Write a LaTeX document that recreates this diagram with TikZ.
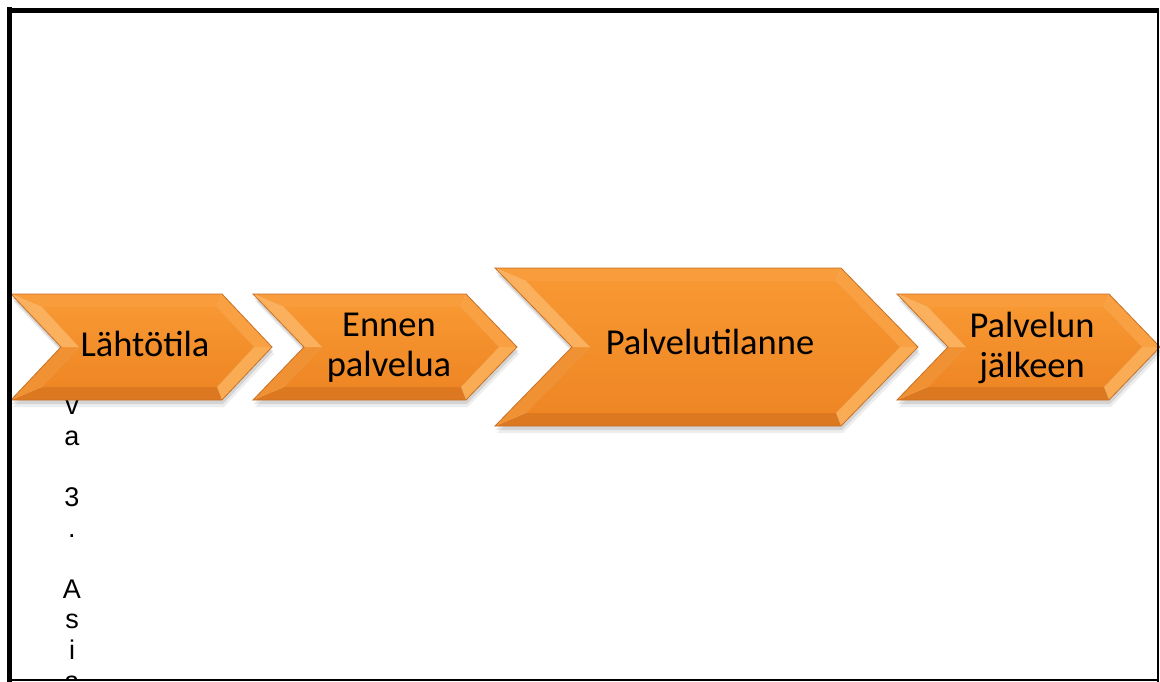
\documentclass[tikz,border=0pt]{standalone}
\usepackage{fontspec}
\setmainfont{Carlito}
\newfontfamily\arialf{Liberation Sans}
\definecolor{bevTop}{RGB}{249,156,60}
\definecolor{bevUR}{RGB}{248,160,66}
\definecolor{bevLR}{RGB}{250,172,84}
\definecolor{bevBot}{RGB}{220,120,32}
\definecolor{bevLL}{RGB}{240,146,52}
\definecolor{bevUL}{RGB}{250,176,92}
\definecolor{faceTop}{RGB}{248,152,50}
\definecolor{faceBot}{RGB}{238,134,36}
\definecolor{edgeC}{RGB}{200,112,36}
\tikzset{
  lbl/.style={font=\fontsize{36.5}{40}\selectfont, align=center, inner sep=0pt, text=black},
  vlet/.style={font=\arialf\fontsize{27}{30}\selectfont, anchor=base, inner sep=0pt, text=black},
}
\newcommand\chevshape[5]{%
  \pgfmathsetmacro\cL{#1}\pgfmathsetmacro\cR{#2}%
  \pgfmathsetmacro\cT{#3}\pgfmathsetmacro\cB{#4}%
  \pgfmathsetmacro\cD{#5}%
  \pgfmathsetmacro\cM{(\cT+\cB)/2}%
  \pgfmathsetmacro\bw{13}\pgfmathsetmacro\bh{18}%
  \coordinate (o1) at (\cL,\cT);
  \coordinate (o2) at (\cR-\cD,\cT);
  \coordinate (o3) at (\cR,\cM);
  \coordinate (o4) at (\cR-\cD,\cB);
  \coordinate (o5) at (\cL,\cB);
  \coordinate (o6) at (\cL+\cD,\cM);
  \coordinate (i1) at (\cL+\bw+\bh,\cT+\bw);
  \coordinate (i2) at (\cR-\cD-5,\cT+\bw);
  \coordinate (i3) at (\cR-\bh,\cM);
  \coordinate (i4) at (\cR-\cD-5,\cB-\bw);
  \coordinate (i5) at (\cL+\bw+\bh,\cB-\bw);
  \coordinate (i6) at (\cL+\cD+\bh,\cM);
  % shadow
  \fill[black,opacity=.07] ([shift={(2,7)}]o1) -- ([shift={(2,7)}]o2) -- ([shift={(2,7)}]o3) -- ([shift={(2,7)}]o4) -- ([shift={(2,7)}]o5) -- ([shift={(2,7)}]o6) -- cycle;
  \fill[black,opacity=.10] ([shift={(1,4)}]o1) -- ([shift={(1,4)}]o2) -- ([shift={(1,4)}]o3) -- ([shift={(1,4)}]o4) -- ([shift={(1,4)}]o5) -- ([shift={(1,4)}]o6) -- cycle;
  % bevels
  \fill[bevTop] (o1) -- (o2) -- (i2) -- (i1) -- cycle;
  \fill[bevUR] (o2) -- (o3) -- (i3) -- (i2) -- cycle;
  \fill[bevLR] (o3) -- (o4) -- (i4) -- (i3) -- cycle;
  \fill[bevBot] (o4) -- (o5) -- (i5) -- (i4) -- cycle;
  \fill[bevLL] (o5) -- (o6) -- (i6) -- (i5) -- cycle;
  \fill[bevUL] (o6) -- (o1) -- (i1) -- (i6) -- cycle;
  % face
  \shade[top color=faceTop, bottom color=faceBot] (i1) -- (i2) -- (i3) -- (i4) -- (i5) -- (i6) -- cycle;
  % outline
  \draw[edgeC, line width=0.8pt, line join=miter] (o1) -- (o2) -- (o3) -- (o4) -- (o5) -- (o6) -- cycle;
}
\begin{document}
\begin{tikzpicture}[x=1pt,y=-1pt]
\useasboundingbox (0,0) rectangle (1160,682);
\fill[white] (0,0) rectangle (1160,682);
% vertical text (partly hidden behind the first arrow)
\begin{scope}
\clip (11,12) rectangle (1157,679.5);
\foreach \ch/\yy [count=\k] in {v/414, a/445, 3/506, ./537, A/598, s/628, i/659, a/690}
  \node[vlet] (vt\k) at (72,\yy) {\ch};
\end{scope}
% arrows
\chevshape{11}{272}{294}{400}{50}
\node[lbl] (n1) at (145,343.5) {Lähtötila};
\chevshape{253}{517}{294}{400}{51}
\node[lbl] (n2) at (389,348) {Ennen\\palvelua};
\chevshape{495}{918}{268}{426}{77}
\node[lbl] (n3) at (710,342) {Palvelutilanne};
\chevshape{897}{1160}{294}{400}{51}
\node[lbl] (n4) at (1032,348) {Palvelun\\jälkeen};
% frame
\draw[line width=4.5pt] (9.3,7.5) -- (9.3,682);
\draw[line width=4.2pt] (7,10.5) -- (1159,10.5);
\draw[line width=1.8pt] (1158.3,8.5) -- (1158.3,682);
\draw[line width=2pt] (8,680.3) -- (1159.2,680.3);
\end{tikzpicture}
\end{document}
